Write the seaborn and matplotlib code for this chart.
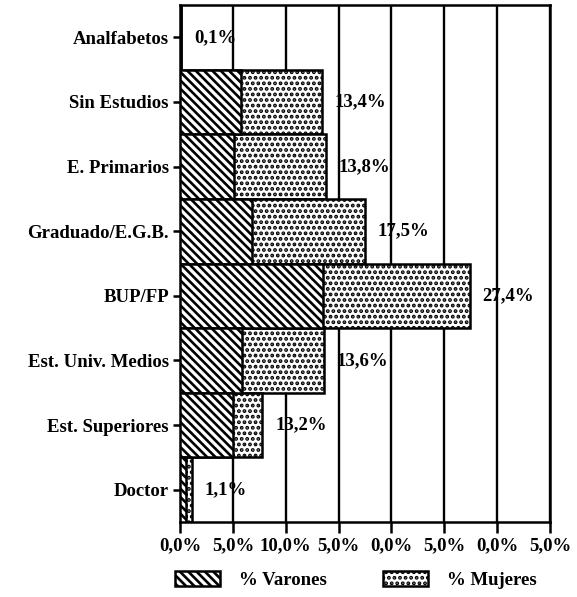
import matplotlib
matplotlib.use("Agg")
import matplotlib.pyplot as plt
from matplotlib.patches import Patch
import seaborn as sns
import pandas as pd

# Nivel de estudios: reparto por sexo y total de cada nivel
categorias = ["Analfabetos", "Sin Estudios", "E. Primarios", "Graduado/E.G.B.",
              "BUP/FP", "Est. Univ. Medios", "Est. Superiores", "Doctor"]
varones = [0.05, 5.8, 5.1, 6.8, 13.5, 5.9, 5.0, 0.55]
mujeres = [0.05, 7.6, 8.7, 10.7, 13.9, 7.7, 2.8, 0.55]
etiquetas = ["0,1%", "13,4%", "13,8%", "17,5%", "27,4%", "13,6%", "13,2%", "1,1%"]
ticks_x = [0, 5, 10, 15, 20, 25, 30, 35]
ticks_x_texto = ["0,0%", "5,0%", "10,0%", "5,0%", "0,0%", "5,0%", "0,0%", "5,0%"]

RAYADO = "\\\\\\\\"
PUNTEADO = "..."

sns.set_theme(style="white")
plt.rcParams["font.family"] = ["Liberation Serif", "DejaVu Serif"]
plt.rcParams["font.weight"] = "bold"
plt.rcParams["text.color"] = "black"
plt.rcParams["hatch.linewidth"] = 1.9
plt.rcParams["hatch.color"] = "black"

df = pd.DataFrame({"nivel": categorias, "varones": varones, "mujeres": mujeres})
df["total"] = df["varones"] + df["mujeres"]

fig = plt.figure(figsize=(5.77, 5.97), dpi=100)
ax = fig.add_axes([0.312, 0.1256, 0.641, 0.866])

# barra completa (mujeres encima de varones) con punteado
sns.barplot(data=df, y="nivel", x="total", orient="h", width=1.0,
            color="white", saturation=1, edgecolor="black", linewidth=1.8,
            hatch=PUNTEADO, ax=ax, zorder=2)
# tramo de varones con rayado diagonal
sns.barplot(data=df, y="nivel", x="varones", orient="h", width=1.0,
            color="white", saturation=1, edgecolor="black", linewidth=1.8,
            hatch=RAYADO, ax=ax, zorder=3)

for i, (tot, lab) in enumerate(zip(df["total"], etiquetas)):
    ax.text(tot + 1.2, i, lab, ha="left", va="center",
            fontsize=13.5, fontweight="bold", color="black", zorder=4)

ax.set_xlim(0, 35)
ax.set_ylim(7.5, -0.5)
ax.set_xticks(ticks_x)
ax.set_xticklabels(ticks_x_texto)
ax.set_xlabel("")
ax.set_ylabel("")
ax.tick_params(axis="x", bottom=True, length=8, width=1.8, direction="out",
               labelsize=13.5, pad=3, colors="black")
ax.tick_params(axis="y", left=True, length=5, width=1.8, direction="out",
               labelsize=13.5, pad=3, colors="black")
for lab in ax.get_xticklabels() + ax.get_yticklabels():
    lab.set_fontweight("bold")

ax.set_axisbelow(True)
ax.grid(axis="x", color="black", linewidth=1.7)
ax.grid(axis="y", visible=False)
for sp in ax.spines.values():
    sp.set_visible(True)
    sp.set_color("black")
    sp.set_linewidth(1.8)

handles = [Patch(facecolor="white", edgecolor="black", hatch=RAYADO, linewidth=1.8, label="% Varones"),
           Patch(facecolor="white", edgecolor="black", hatch=PUNTEADO, linewidth=1.8, label="% Mujeres")]
leg = fig.legend(handles=handles, loc="center", bbox_to_anchor=(0.617, 0.028),
                 ncol=2, frameon=False, fontsize=13.5, handlelength=2.4,
                 handleheight=0.85, handletextpad=1.0, columnspacing=3.0)
for t in leg.get_texts():
    t.set_fontweight("bold")
    t.set_color("black")

fig.savefig("out.png", dpi=100)
